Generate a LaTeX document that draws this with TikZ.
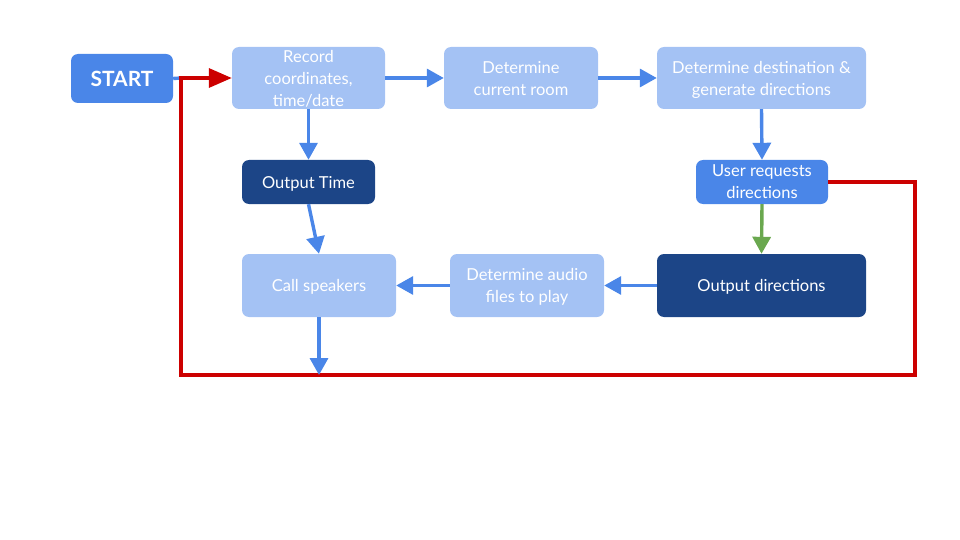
\documentclass[tikz,border=0pt]{standalone}
\usepackage{fontspec}
\setmainfont{Lato}
\usetikzlibrary{arrows.meta}
\definecolor{lightb}{HTML}{A4C2F4}
\definecolor{midb}{HTML}{4A86E8}
\definecolor{darkb}{HTML}{1C4587}
\definecolor{arrb}{HTML}{4A86E8}
\definecolor{redl}{HTML}{CC0000}
\definecolor{greenl}{HTML}{6AA84F}
\tikzset{
  box/.style={rounded corners=7pt, text=white, align=center, inner sep=2pt, text depth=0pt, font=\fontsize{16.5}{22}\selectfont},
  light/.style={box, fill=lightb},
  mid/.style={box, fill=midb},
  dark/.style={box, fill=darkb},
  conn/.style={draw=arrb, line width=3.4pt, -{Triangle[length=17pt,width=18pt]}},
  redconn/.style={draw=redl, line width=3.4pt, -{Triangle[length=23pt,width=19pt]}},
  greenconn/.style={draw=greenl, line width=3.4pt, -{Triangle[length=17pt,width=18pt]}},
}
\begin{document}
\begin{tikzpicture}[x=1pt,y=-1pt]
\useasboundingbox (0,0) rectangle (960,540);
\node[mid, minimum width=102pt, minimum height=49pt, font=\fontsize{21}{24}\selectfont\bfseries] (start) at (122,78.5) {START};
\node[light, minimum width=153pt, minimum height=62pt] (rec) at (308.5,78) {Record\\coordinates,\\time/date};
\node[light, minimum width=154pt, minimum height=62pt] (room) at (521,78) {Determine\\current room};
\node[light, minimum width=209pt, minimum height=62pt] (dest) at (761.5,78) {Determine destination \&\\generate directions};
\node[dark, minimum width=133pt, minimum height=44pt] (ot) at (308.5,182) {Output Time};
\node[mid, minimum width=132pt, minimum height=44pt] (ur) at (762,182) {User requests\\directions};
\node[light, minimum width=154pt, minimum height=63pt] (cs) at (319,285.5) {Call speakers};
\node[light, minimum width=154pt, minimum height=63pt] (aud) at (527,285.5) {Determine audio\\files to play};
\node[dark, minimum width=209pt, minimum height=63pt] (od) at (761.5,285.5) {Output directions};
\coordinate (c1) at (915,182);
\coordinate (c2) at (915,375);
\coordinate (c3) at (181,375);
\coordinate (c4) at (181,78);
\draw[draw=arrb, line width=3.4pt] (start.east) -- (c4);
\draw[conn] (rec.east) -- (room.west);
\draw[conn] (room.east) -- (dest.west);
\draw[conn] (dest.south) -- (ur.north);
\draw[conn] (rec.south) -- (ot.north);
\draw[conn] (ot.south) -- (cs.north);
\draw[greenconn] (ur.south) -- (od.north);
\draw[conn] (od.west) -- (aud.east);
\draw[conn] (aud.west) -- (cs.east);
\draw[redconn] (ur.east) -- (c1) -- (c2) -- (c3) -- (c4) -- (rec.west);
\draw[conn] (cs.south) -- (cs.south |- c3);
\end{tikzpicture}
\end{document}
